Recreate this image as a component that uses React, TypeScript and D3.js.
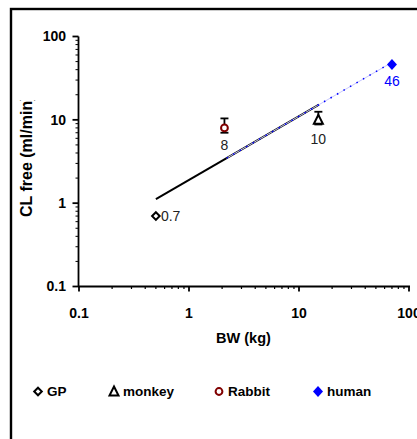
import React from "react";
import * as d3 from "d3";

// Body weight (kg) and free clearance (ml/min) per species
const species = ["GP", "monkey", "Rabbit", "human"];
const bodyWeight = [0.5, 15, 2.1, 70];
const clearance = [0.7, 10, 8, 46];
const clLabels = ["0.7", "10", "8", "46"];
// error bar limits (low, high); null where no bar is drawn
const errLow = [null, 8.8, 7.0, null];
const errHigh = [null, 12.5, 10.4, null];

// allometric fit through the animal species, and its extension to human
const fitBW = [0.5, 15.2];
const fitCL = [1.12, 15.2];
const extBW = [2.2, 70];
const extCL = [3.47, 48.9];

const xTicks = [0.1, 1, 10, 100];
const yTicks = [0.1, 1, 10, 100];
const tickText = ["0.1", "1", "10", "100"];

const W = 417;
const H = 439;
const FONT = "Arial, 'Liberation Sans', sans-serif";

const x = d3.scaleLog().domain([0.1, 100]).range([79, 409]);
const y = d3.scaleLog().domain([0.1, 100]).range([286.5, 36.5]);

const minorTicks = (lo: number, hi: number) => {
  const out: number[] = [];
  for (let d = lo; d < hi; d *= 10) {
    for (let k = 2; k <= 9; k++) out.push(d * k);
  }
  return out;
};

type Kind = "diamondOpen" | "triangle" | "circle" | "diamondFill";
const kinds: Kind[] = ["diamondOpen", "triangle", "circle", "diamondFill"];
const colors = ["#000000", "#000000", "#800000", "#0000ff"];

function Marker({ kind, cx, cy, color }: { kind: Kind; cx: number; cy: number; color: string }) {
  if (kind === "diamondOpen") {
    const r = 3.8;
    return (
      <path
        d={`M${cx},${cy - r}L${cx + r},${cy}L${cx},${cy + r}L${cx - r},${cy}Z`}
        fill="white"
        stroke={color}
        strokeWidth={2}
      />
    );
  }
  if (kind === "diamondFill") {
    return (
      <path
        d={`M${cx},${cy - 5.5}L${cx + 5},${cy}L${cx},${cy + 5.5}L${cx - 5},${cy}Z`}
        fill={color}
      />
    );
  }
  if (kind === "triangle") {
    return (
      <path
        d={`M${cx},${cy - 5}L${cx + 4.5},${cy + 4}L${cx - 4.5},${cy + 4}Z`}
        fill="white"
        stroke={color}
        strokeWidth={2}
      />
    );
  }
  return <circle cx={cx} cy={cy} r={3.4} fill="white" stroke={color} strokeWidth={2} />;
}

export default function App() {
  const line = d3
    .line<[number, number]>()
    .x((d) => x(d[0]))
    .y((d) => y(d[1]));
  const fitPts: [number, number][] = fitBW.map((b, i) => [b, fitCL[i]]);
  const extPts: [number, number][] = extBW.map((b, i) => [b, extCL[i]]);

  const xMinor = minorTicks(0.1, 100);
  const yMinor = minorTicks(0.1, 100);

  // label offsets relative to each marker
  const labelPos = [
    { dx: 5, dy: 5, anchor: "start" },
    { dx: 0, dy: 24, anchor: "middle" },
    { dx: 0, dy: 22, anchor: "middle" },
    { dx: 0, dy: 21, anchor: "middle" },
  ];

  const legendX = [38, 114, 219, 318];
  const legendY = 391.5;

  return (
    <svg
      width={W}
      height={H}
      style={{ position: "absolute", left: 0, top: 0, background: "white" }}
      fontFamily={FONT}
    >
      <defs>
        <clipPath id="ytitle-clip">
          <rect x={0} y={100} width={60} height={200} />
        </clipPath>
      </defs>
      {/* outer frame */}
      <rect x={11} y={9} width={W + 20} height={H + 20} fill="white" stroke="black" strokeWidth={2.4} />

      {/* y axis */}
      <line x1={78.5} x2={78.5} y1={y(100)} y2={y(0.1)} stroke="black" strokeWidth={1.8} />
      {yMinor.map((v) => (
        <line key={"ym" + v} x1={75.5} x2={78.5} y1={y(v)} y2={y(v)} stroke="black" strokeWidth={1} />
      ))}
      {yTicks.map((v, i) => (
        <g key={"yt" + v}>
          <line x1={72.5} x2={78.5} y1={y(v)} y2={y(v)} stroke="black" strokeWidth={1.8} />
          <text
            x={66}
            y={y(v) + 4.8}
            textAnchor="end"
            fontSize={14}
            fontWeight="bold"
          >
            {tickText[i]}
          </text>
        </g>
      ))}

      {/* x axis */}
      <line x1={x(0.1) - 1} x2={x(100) + 1} y1={286.5} y2={286.5} stroke="black" strokeWidth={2} />
      {xMinor.map((v) => (
        <line key={"xm" + v} x1={x(v)} x2={x(v)} y1={286.5} y2={289} stroke="black" strokeWidth={1.2} />
      ))}
      {xTicks.map((v, i) => (
        <g key={"xt" + v}>
          <line x1={x(v)} x2={x(v)} y1={286.5} y2={291.5} stroke="black" strokeWidth={1.8} />
          <text x={x(v)} y={317.5} textAnchor="middle" fontSize={14} fontWeight="bold">
            {tickText[i]}
          </text>
        </g>
      ))}

      {/* axis titles */}
      <text x={243.5} y={343} textAnchor="middle" fontSize={14.5} fontWeight="bold">
        BW (kg)
      </text>
      <g clipPath="url(#ytitle-clip)">
        <text
          transform="translate(32,217) rotate(-90)"
          textAnchor="start"
          fontSize={16}
          fontWeight="bold"
        >
          CL free (ml/min)
        </text>
      </g>

      {/* fit line and its extrapolation */}
      <path d={line(fitPts) ?? ""} fill="none" stroke="black" strokeWidth={2} />
      <path d={line(extPts) ?? ""} fill="none" stroke="#c8c8ff" strokeWidth={1} />
      <path
        d={line(extPts) ?? ""}
        fill="none"
        stroke="#0000ff"
        strokeWidth={1.5}
        strokeDasharray="1.5,6"
      />

      {/* error bars */}
      {species.map((s, i) => {
        const lo = errLow[i];
        const hi = errHigh[i];
        if (lo == null || hi == null) return null;
        const cx = x(bodyWeight[i]);
        return (
          <g key={"eb" + s} stroke="black" strokeWidth={1.8}>
            <line x1={cx} x2={cx} y1={y(lo)} y2={y(hi)} />
            <line x1={cx - 4} x2={cx + 4} y1={y(lo)} y2={y(lo)} />
            <line x1={cx - 4} x2={cx + 4} y1={y(hi)} y2={y(hi)} />
          </g>
        );
      })}

      {/* data points with value labels */}
      {species.map((s, i) => {
        const cx = x(bodyWeight[i]);
        const cy = y(clearance[i]);
        const lp = labelPos[i];
        return (
          <g key={"pt" + s}>
            <Marker kind={kinds[i]} cx={cx} cy={cy} color={colors[i]} />
            <text
              x={cx + lp.dx}
              y={cy + lp.dy}
              textAnchor={lp.anchor as any}
              fontSize={14}
              fill={i === 3 ? "#0000ff" : "#222"}
            >
              {clLabels[i]}
            </text>
          </g>
        );
      })}

      {/* legend */}
      {species.map((s, i) => (
        <g key={"lg" + s}>
          <Marker kind={kinds[i]} cx={legendX[i]} cy={legendY} color={colors[i]} />
          <text x={legendX[i] + 9} y={legendY + 4.5} fontSize={13.5} fontWeight="bold">
            {s}
          </text>
        </g>
      ))}
    </svg>
  );
}
